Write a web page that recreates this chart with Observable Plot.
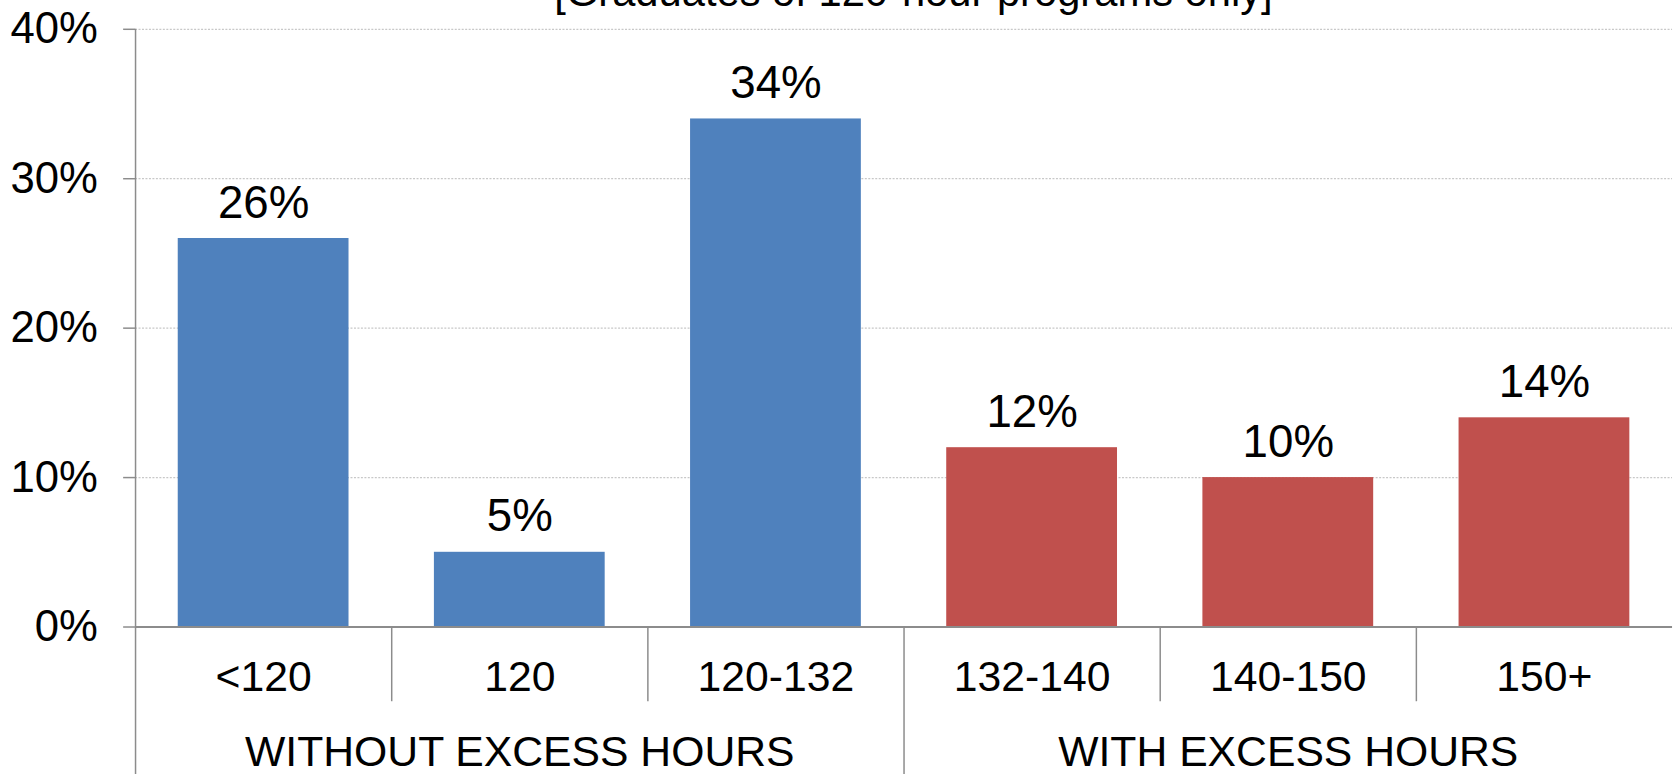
<!DOCTYPE html>
<html>
<head>
<meta charset="utf-8">
<script src="https://cdn.jsdelivr.net/npm/d3@7"></script>
<script src="https://cdn.jsdelivr.net/npm/@observablehq/plot@0.6"></script>
<style>
  html, body { margin: 0; padding: 0; background: #fff; overflow: hidden; }
  #chart { width: 1678px; height: 780px; overflow: hidden; }
</style>
</head>
<body>
<div id="chart"></div>
<script>
const title = "[Graduates of 120-hour programs only]";
const categories = ["<120", "120", "120-132", "132-140", "140-150", "150+"];
const values = [0.26, 0.05, 0.34, 0.12, 0.10, 0.14];
const groups = ["WITHOUT EXCESS HOURS", "WITHOUT EXCESS HOURS", "WITHOUT EXCESS HOURS",
                "WITH EXCESS HOURS", "WITH EXCESS HOURS", "WITH EXCESS HOURS"];
const groupLabels = ["WITHOUT EXCESS HOURS", "WITH EXCESS HOURS"];
const groupCenters = ["120", "140-150"];
const groupStarts = ["<120", "132-140"];
const yTicks = [0, 0.1, 0.2, 0.3, 0.4];
const groupColors = ["#4F81BD", "#C0504D"];

const data = categories.map((c, i) => ({category: c, value: values[i], group: groups[i]}));

const W = 1690, H = 780;
const mL = 136, mR = 6, mT = 29, mB = 149;
const step = (W - mL - mR) / categories.length;
const axisGray = "#8c8c8c";
const font = "'Liberation Sans', Arial, sans-serif";

const chart = Plot.plot({
  width: W,
  height: H,
  marginLeft: mL,
  marginRight: mR,
  marginTop: mT,
  marginBottom: mB,
  style: {fontFamily: font, background: "#fff", color: "#000"},
  x: {domain: categories, paddingInner: 0.333, paddingOuter: 0.1665, label: null},
  y: {domain: [0, 0.4], label: null},
  color: {domain: groupLabels, range: groupColors},
  marks: [
    Plot.ruleY(yTicks.filter(d => d > 0), {stroke: "#c8c8c8", strokeWidth: 1.2, strokeDasharray: "2,1.5"}),
    Plot.barY(data, {x: "category", y: "value", fill: "group"}),
    Plot.ruleY([0], {stroke: axisGray, strokeWidth: 2}),
    // category dividers below baseline
    Plot.ruleX(categories.filter(c => !groupStarts.includes(c)), {x: d => d, dx: -step / 2, y1: 0, y2: -0.05, stroke: axisGray, strokeWidth: 1.5}),
    // left group divider doubles as the y axis line
    Plot.ruleX(groupStarts.slice(0, 1), {x: d => d, dx: -step / 2, y1: 0.4, y2: -0.11, stroke: axisGray, strokeWidth: 1.5}),
    Plot.ruleX(groupStarts.slice(1), {x: d => d, dx: -step / 2, y1: 0, y2: -0.11, stroke: axisGray, strokeWidth: 1.5}),
    Plot.axisY({ticks: yTicks, tickFormat: d3.format(".0%"), tickSize: 12, tickPadding: 26, fontSize: 44, stroke: axisGray, strokeWidth: 1.5, fill: "#000"}),
    Plot.axisX({tickSize: 0, tickPadding: 34, fontSize: 43, fill: "#000"}),
    Plot.text(data, {x: "category", y: "value", text: d => d3.format(".0%")(d.value), dy: -21, lineAnchor: "bottom", fontSize: 46, fill: "#000"}),
    Plot.text(groupLabels, {x: (d, i) => groupCenters[i], y: 0, dy: 140, lineAnchor: "bottom", text: d => d, fontSize: 43, fill: "#000"}),
    Plot.text([title], {frameAnchor: "top", lineAnchor: "bottom", dy: -23, dx: 9.5, text: d => d, fontSize: 42, fill: "#000"})
  ]
});
document.getElementById("chart").appendChild(chart);
</script>
</body>
</html>
